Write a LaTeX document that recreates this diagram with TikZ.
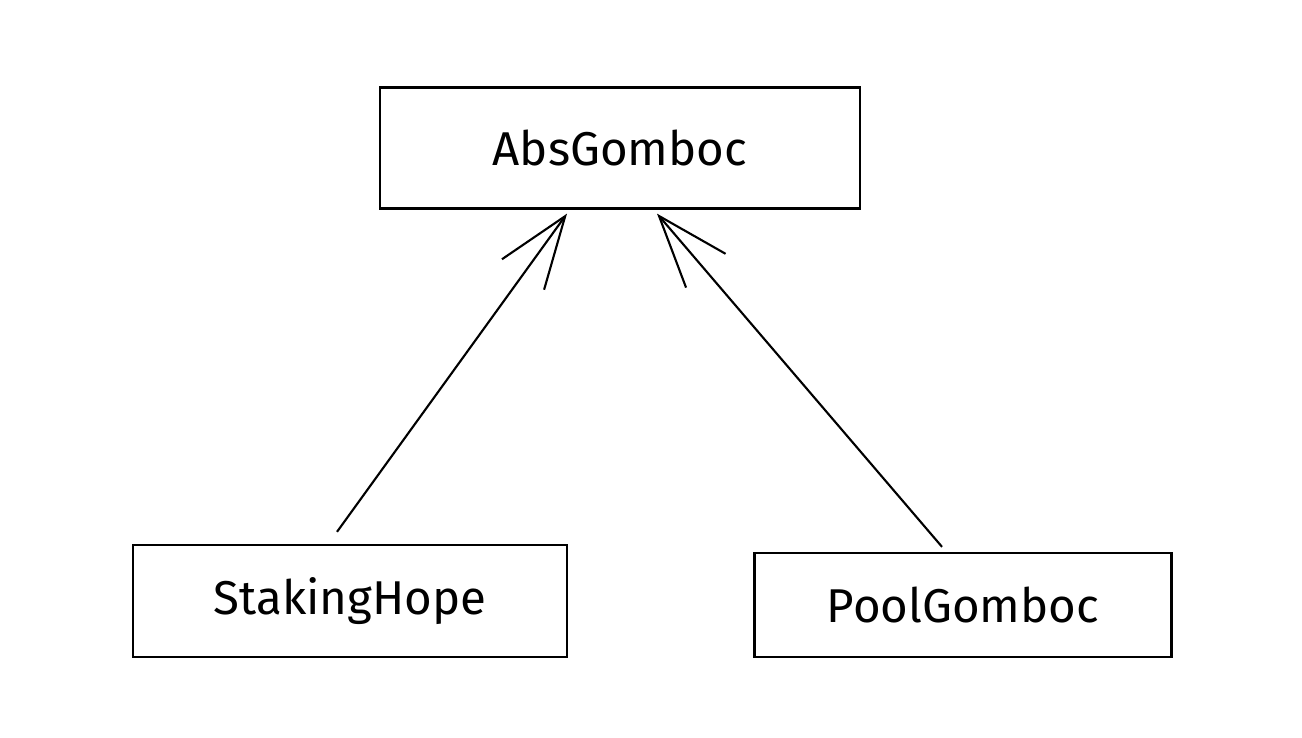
\documentclass[tikz,border=0pt]{standalone}
\usepackage{fontspec}
\setmainfont{Fira Sans}
\usetikzlibrary{arrows.meta, calc}

\begin{document}
\begin{tikzpicture}[
  box/.style={draw, line width=1.3pt, align=center, font=\fontsize{27}{32}\selectfont},
  arrow/.style={-{Straight Barb[length=1.44cm, width=1.04cm, line width=1.2pt]}, line width=1.2pt}
]
\useasboundingbox (0,0) rectangle (26.04,14.76);

% Base class
\node[box, minimum width=9.6cm, minimum height=2.42cm] (absgomboc) at (12.4, 11.8) {AbsGomboc};

% Subclasses
\node[box, minimum width=8.68cm, minimum height=2.24cm] (stakinghope) at (7.0, 2.74) {StakingHope};
\node[box, minimum width=8.34cm, minimum height=2.08cm] (poolgomboc) at (19.26, 2.66) {PoolGomboc};

\draw[arrow] ($(stakinghope.north)+(-0.26,0.24)$) -- ($(absgomboc.south)+(-1.06,-0.08)$);
\draw[arrow] ($(poolgomboc.north)+(-0.42,0.1)$) -- ($(absgomboc.south)+(0.74,-0.08)$);
\end{tikzpicture}
\end{document}
